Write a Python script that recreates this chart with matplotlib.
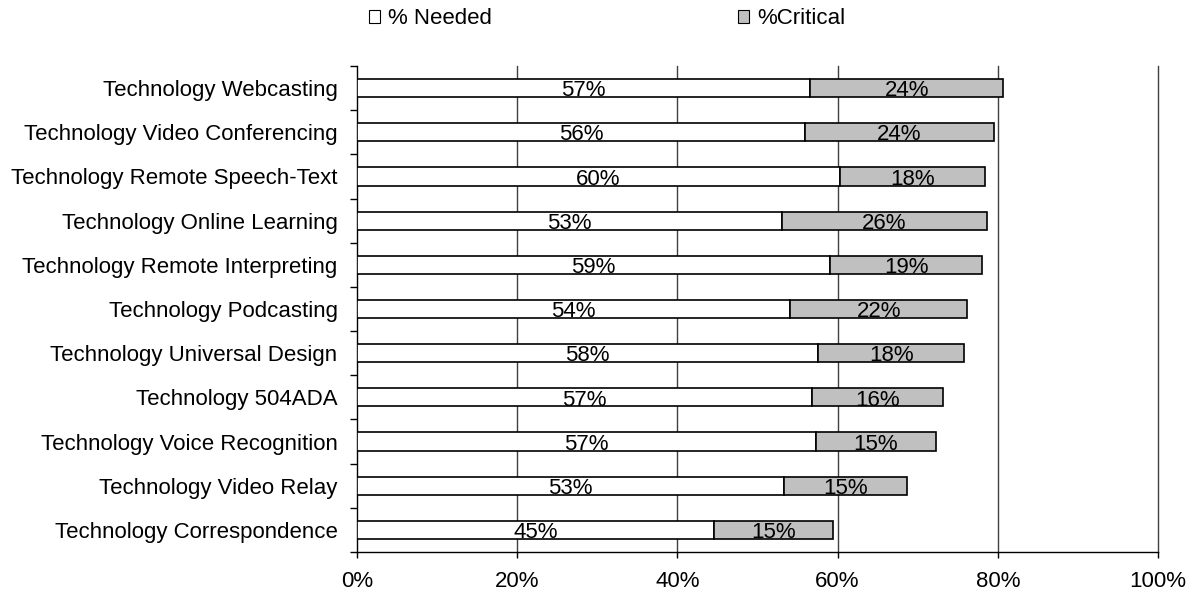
import matplotlib
matplotlib.use("Agg")
import matplotlib.pyplot as plt
from matplotlib.patches import Patch
from matplotlib.ticker import FixedLocator, PercentFormatter

plt.rcParams['font.family'] = ['Liberation Sans', 'DejaVu Sans']

categories = [
    "Technology Webcasting",
    "Technology Video Conferencing",
    "Technology Remote Speech-Text",
    "Technology Online Learning",
    "Technology Remote Interpreting",
    "Technology Podcasting",
    "Technology Universal Design",
    "Technology 504ADA",
    "Technology Voice Recognition",
    "Technology Video Relay",
    "Technology Correspondence",
]
pct_needed = [56.6, 55.9, 60.3, 53.0, 59.1, 54.1, 57.6, 56.8, 57.3, 53.3, 44.6]
pct_critical = [24.1, 23.6, 18.1, 25.6, 18.9, 22.1, 18.2, 16.4, 15.0, 15.4, 14.8]
x_ticks = [0, 20, 40, 60, 80, 100]

FS = 16
fig = plt.figure(figsize=(11.99, 5.99), dpi=100)
ax = fig.add_axes([357 / 1199, 1 - 552 / 599, (1158 - 357) / 1199, (552 - 66) / 599])

n = len(categories)
ypos = list(range(n))
h = 0.41
ax.barh(ypos, pct_needed, height=h, color="white", edgecolor="black", linewidth=1.2, zorder=3)
ax.barh(ypos, pct_critical, left=pct_needed, height=h, color="#C0C0C0",
        edgecolor="black", linewidth=1.2, zorder=3)

for y, a, b in zip(ypos, pct_needed, pct_critical):
    ax.text(a / 2, y + 0.06, f"{a:.0f}%", ha="center", va="center", fontsize=FS, zorder=4)
    ax.text(a + b / 2, y + 0.06, f"{b:.0f}%", ha="center", va="center", fontsize=FS, zorder=4)

ax.set_xlim(0, 100)
ax.set_ylim(n - 0.5, -0.5)
ax.set_xticks(x_ticks)
ax.xaxis.set_major_formatter(PercentFormatter(decimals=0))
ax.set_yticks(ypos)
ax.set_yticklabels(categories, fontsize=FS)
ax.yaxis.set_minor_locator(FixedLocator([i - 0.5 for i in range(n + 1)]))
ax.tick_params(axis="y", which="major", length=0, pad=14)
ax.tick_params(axis="y", which="minor", length=5, width=1, direction="out")
ax.tick_params(axis="x", which="major", length=4, width=1, direction="out", pad=10, labelsize=FS)

# vertical gridlines, including the one at the right edge
for xv in x_ticks[1:]:
    ax.axvline(xv, color="#404040", linewidth=1, zorder=0, clip_on=False)
for side in ("top", "right"):
    ax.spines[side].set_visible(False)
for side in ("left", "bottom"):
    ax.spines[side].set_color("black")
    ax.spines[side].set_linewidth(1)

handles = [Patch(facecolor="white", edgecolor="black", linewidth=0.8, label="% Needed"),
           Patch(facecolor="#C0C0C0", edgecolor="black", linewidth=0.8, label="%Critical")]
fig.legend(handles=handles, loc="center", bbox_to_anchor=(607 / 1199, 1 - 19 / 599), ncol=2,
           frameon=False, fontsize=FS, handlelength=0.5, handleheight=0.5,
           handletextpad=0.35, columnspacing=11.1)

fig.savefig("out.png", dpi=100)
